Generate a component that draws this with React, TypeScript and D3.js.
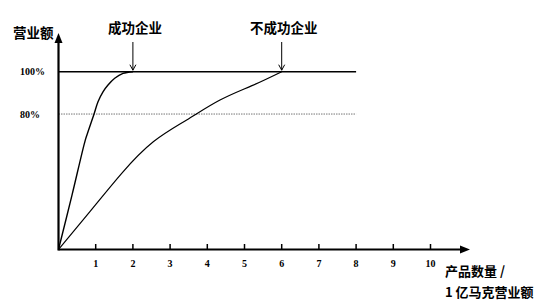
import React from "react";
import * as d3 from "d3";

// Product count (units of 100M DM revenue) on x, share of revenue (%) on y
const xTicks = [1, 2, 3, 4, 5, 6, 7, 8, 9, 10];
const levelValues = [100, 80];
const levelLabels = ["100%", "80%"];

const successX = [0, 0.363, 0.72, 0.793, 0.954, 1.062, 1.196, 1.331, 1.511, 1.734, 2.0];
const successY = [16, 41.7, 67.7, 71.6, 79.9, 85.8, 90.5, 93.7, 96.9, 99.2, 100];

const failX = [0, 0.85, 1.699, 2.548, 3.446, 4.341, 5.2, 6.0];
const failY = [16, 34.0, 52.0, 66.9, 77.2, 86.6, 93.4, 100];

const seriesNames = ["成功企业", "不成功企业"];
const seriesEnds = [2, 6];

const W = 544;
const H = 304;

export default function App() {
  const x = d3.scaleLinear().domain([0, 10]).range([58.5, 430.5]);
  const y = d3.scaleLinear().domain([16, 100]).range([249.5, 71.7]);

  const lineFor = (curve: d3.CurveFactory) =>
    d3
      .line<[number, number]>()
      .x((d) => x(d[0]))
      .y((d) => y(d[1]))
      .curve(curve);

  const success = successX.map((v, i) => [v, successY[i]] as [number, number]);
  const fail = failX.map((v, i) => [v, failY[i]] as [number, number]);

  const x0 = x(0);
  const y0 = y(16);
  const cjk = "'Noto Sans CJK SC', sans-serif";
  const serif = "'Liberation Serif', 'Times New Roman', serif";

  return (
    <svg
      width={W}
      height={H}
      style={{ position: "absolute", left: 0, top: 0, background: "#fff" }}
    >
      {/* reference levels */}
      {levelValues.map((v, i) => (
        <g key={v}>
          <line
            x1={x0}
            x2={x(8)}
            y1={y(v)}
            y2={y(v)}
            stroke={i === 0 ? "#000" : "#777"}
            strokeWidth={i === 0 ? 1.4 : 1}
            strokeDasharray={i === 0 ? undefined : "1.5,1"}
          />
          <text
            x={20}
            y={y(v) + 3.5}
            fontFamily={serif}
            fontWeight="bold"
            fontSize={10}
            fill="#000"
          >
            {levelLabels[i]}
          </text>
        </g>
      ))}

      {/* curves */}
      <path
        d={lineFor(d3.curveCatmullRom.alpha(0.5))(success) || ""}
        fill="none"
        stroke="#000"
        strokeWidth={1.4}
      />
      <path
        d={lineFor(d3.curveNatural)(fail) || ""}
        fill="none"
        stroke="#000"
        strokeWidth={1.2}
      />

      {/* axes */}
      <line x1={x0} x2={x0} y1={y0 + 1} y2={40} stroke="#000" strokeWidth={2.2} />
      <path d={`M${x0},33 L${x0 - 4},43 L${x0 + 4},43 Z`} fill="#000" />
      <line x1={x0} x2={462} y1={y0} y2={y0} stroke="#000" strokeWidth={2.2} />
      <path d={`M470,${y0} L460,${y0 - 4} L460,${y0 + 4} Z`} fill="#000" />

      {xTicks.map((t) => (
        <g key={t}>
          <line x1={x(t)} x2={x(t)} y1={y0} y2={y0 - 5.5} stroke="#000" strokeWidth={1.5} />
          <text
            x={x(t)}
            y={266.5}
            textAnchor="middle"
            fontFamily={serif}
            fontWeight="bold"
            fontSize={10}
            fill="#000"
          >
            {t}
          </text>
        </g>
      ))}

      {/* series labels with pointer arrows */}
      {seriesNames.map((name, i) => {
        const px = x(seriesEnds[i]);
        return (
          <g key={name}>
            <text
              x={px + 2}
              y={33}
              textAnchor="middle"
              fontFamily={cjk}
              fontWeight="bold"
              fontSize={13.5}
              fill="#000"
            >
              {name}
            </text>
            <line x1={px} x2={px} y1={42} y2={y(100) - 1.5} stroke="#000" strokeWidth={1} />
            <path
              d={`M${px - 3},${y(100) - 7} L${px},${y(100) - 1.5} L${px + 3},${y(100) - 7}`}
              fill="none"
              stroke="#000"
              strokeWidth={1}
            />
          </g>
        );
      })}

      {/* axis titles */}
      <text x={13} y={37.5} fontFamily={cjk} fontWeight="bold" fontSize={13.5} fill="#000">
        营业额
      </text>
      <text x={445} y={276} fontFamily={cjk} fontWeight="bold" fontSize={13} fill="#000">
        产品数量 /
      </text>
      <text x={445} y={296.5} fontFamily={cjk} fontWeight="bold" fontSize={13} fill="#000">
        1 亿马克营业额
      </text>
    </svg>
  );
}
